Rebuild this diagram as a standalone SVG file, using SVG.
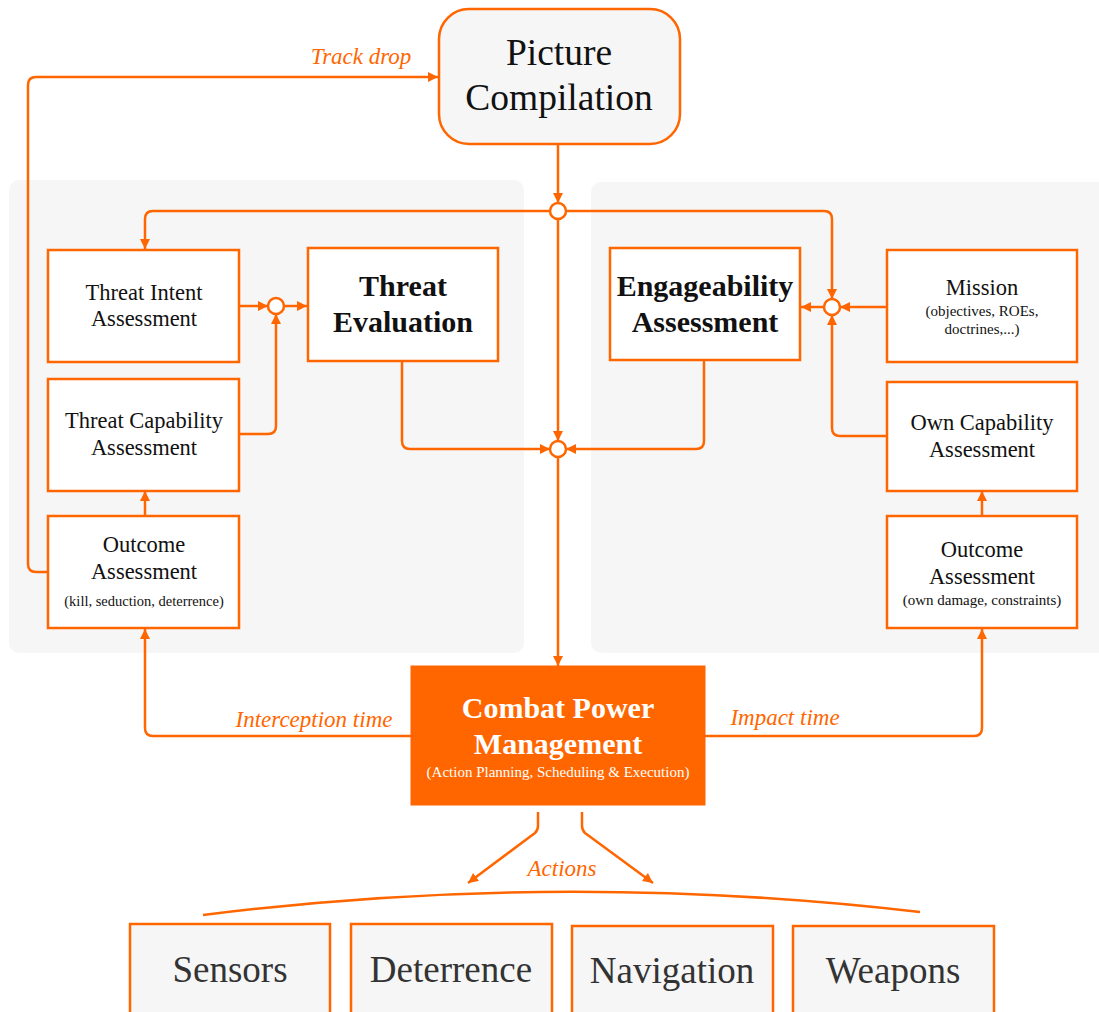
<svg xmlns="http://www.w3.org/2000/svg" width="1099" height="1012" viewBox="0 0 1099 1012">
<defs>
<style>
.panel{fill:#f6f6f6;stroke:none}
.box{fill:#ffffff;stroke:#ff6600;stroke-width:2.5}
.gbox{fill:#f6f6f6;stroke:#ff6600;stroke-width:2.5}
.obox{fill:#ff6600;stroke:#ff6600;stroke-width:1}
.con{fill:none;stroke:#ff6600;stroke-width:2.5;stroke-linejoin:round}
.arr{marker-end:url(#ah)}
.jn{fill:#ffffff;stroke:#ff6600;stroke-width:2.5}
.t{font-family:"Liberation Serif","Times New Roman",serif;text-anchor:middle;fill:#111}
.n{font-size:22.5px}
.s{font-size:15px}
.b{font-size:30px;font-weight:bold}
.big{font-size:37.5px}
.act{font-size:37px;fill:#333}
.lbl{font-family:"Liberation Serif","Times New Roman",serif;font-style:italic;font-size:23px;fill:#ff6600;text-anchor:middle}
.w{fill:#ffffff}
</style>
<marker id="ah" viewBox="0 0 10 10" refX="10" refY="5" markerWidth="11" markerHeight="10" orient="auto" markerUnits="userSpaceOnUse">
<path d="M0,0 L10,5 L0,10 z" fill="#ff6600"/>
</marker>
</defs>
<rect width="1099" height="1012" fill="#ffffff"/>
<g id="panels">
<rect class="panel" x="9" y="180" width="515" height="473" rx="10"/>
<rect class="panel" x="591" y="182" width="520" height="471" rx="10"/>
</g>
<g id="connectors">
<path class="con arr" d="M48,572 H36 Q28,572 28,564 V85 Q28,77 36,77 H438"/>
<path class="con arr" d="M558,144 V203"/>
<path class="con arr" d="M550,211 H153 Q145,211 145,219 V249"/>
<path class="con arr" d="M566,211 H824 Q832,211 832,219 V299"/>
<path class="con arr" d="M558,219 V441"/>
<path class="con arr" d="M558,457 V666"/>
<path class="con arr" d="M402,361 V441 Q402,449 410,449 H550"/>
<path class="con arr" d="M704,360 V441 Q704,449 696,449 H566"/>
<path class="con arr" d="M239,306 H268"/>
<path class="con arr" d="M284,306 H307"/>
<path class="con arr" d="M239,434 H268 Q276,434 276,426 V314"/>
<path class="con arr" d="M145,516 V491"/>
<path class="con arr" d="M824,307 H801"/>
<path class="con arr" d="M887,307 H840"/>
<path class="con arr" d="M887,436 H840 Q832,436 832,428 V315"/>
<path class="con arr" d="M982,516 V491"/>
<path class="con arr" d="M411,736 H153 Q145,736 145,728 V629"/>
<path class="con arr" d="M705,736 H974 Q982,736 982,728 V629"/>
<path class="con arr" d="M538,812 V826 Q538,830 535,833 L468,883"/>
<path class="con arr" d="M582,812 V826 Q582,830 585,833 L653,883"/>
<path class="con" d="M203,915 Q560,870 920,912"/>
<circle class="jn" cx="558" cy="211" r="8"/>
<circle class="jn" cx="558" cy="449" r="8"/>
<circle class="jn" cx="276" cy="306" r="8"/>
<circle class="jn" cx="832" cy="307" r="8"/>
<text class="lbl" x="361" y="64">Track drop</text>
<text class="lbl" x="314" y="727">Interception time</text>
<text class="lbl" x="785" y="725">Impact time</text>
<text class="lbl" x="562" y="876">Actions</text>
</g>
<g id="picture-compilation">
<rect class="gbox" x="439" y="9" width="241" height="135" rx="30"/>
<text class="t big" x="559" y="65">Picture</text>
<text class="t big" x="559" y="110">Compilation</text>
</g>
<g id="threat-intent">
<rect class="box" x="48" y="250" width="191" height="112"/>
<text class="t n" x="144" y="300">Threat Intent</text>
<text class="t n" x="144" y="326">Assessment</text>
</g>
<g id="threat-capability">
<rect class="box" x="48" y="379" width="191" height="112"/>
<text class="t n" x="144" y="428">Threat Capability</text>
<text class="t n" x="144" y="455">Assessment</text>
</g>
<g id="outcome-left">
<rect class="box" x="48" y="516" width="191" height="112"/>
<text class="t n" x="144" y="552">Outcome</text>
<text class="t n" x="144" y="579">Assessment</text>
<text class="t s" x="144" y="606" style="font-size:14.5px">(kill, seduction, deterrence)</text>
</g>
<g id="threat-evaluation">
<rect class="box" x="308" y="248" width="190" height="113"/>
<text class="t b" x="403" y="296">Threat</text>
<text class="t b" x="403" y="332">Evaluation</text>
</g>
<g id="engageability">
<rect class="box" x="610" y="248" width="190" height="112"/>
<text class="t b" x="705" y="296">Engageability</text>
<text class="t b" x="705" y="332">Assessment</text>
</g>
<g id="mission">
<rect class="box" x="887" y="250" width="190" height="112"/>
<text class="t n" x="982" y="295">Mission</text>
<text class="t s" x="982" y="316">(objectives, ROEs,</text>
<text class="t s" x="982" y="334">doctrines,...)</text>
</g>
<g id="own-capability">
<rect class="box" x="887" y="382" width="190" height="109"/>
<text class="t n" x="982" y="430">Own Capability</text>
<text class="t n" x="982" y="457">Assessment</text>
</g>
<g id="outcome-right">
<rect class="box" x="887" y="516" width="190" height="112"/>
<text class="t n" x="982" y="557">Outcome</text>
<text class="t n" x="982" y="584">Assessment</text>
<text class="t s" x="982" y="605">(own damage, constraints)</text>
</g>
<g id="combat-power">
<rect class="obox" x="411" y="666" width="294" height="139"/>
<text class="t b w" x="558" y="718">Combat Power</text>
<text class="t b w" x="558" y="754">Management</text>
<text class="t w" x="558" y="777" style="font-size:15px">(Action Planning, Scheduling &amp; Execution)</text>
</g>
<g id="sensors">
<rect class="gbox" x="130" y="924" width="200" height="100"/>
<text class="t act" x="230" y="982">Sensors</text>
</g>
<g id="deterrence">
<rect class="gbox" x="351" y="924" width="201" height="100"/>
<text class="t act" x="451" y="982">Deterrence</text>
</g>
<g id="navigation">
<rect class="gbox" x="572" y="926" width="201" height="100"/>
<text class="t act" x="672" y="983">Navigation</text>
</g>
<g id="weapons">
<rect class="gbox" x="793" y="926" width="201" height="100"/>
<text class="t act" x="893" y="983">Weapons</text>
</g>
</svg>
